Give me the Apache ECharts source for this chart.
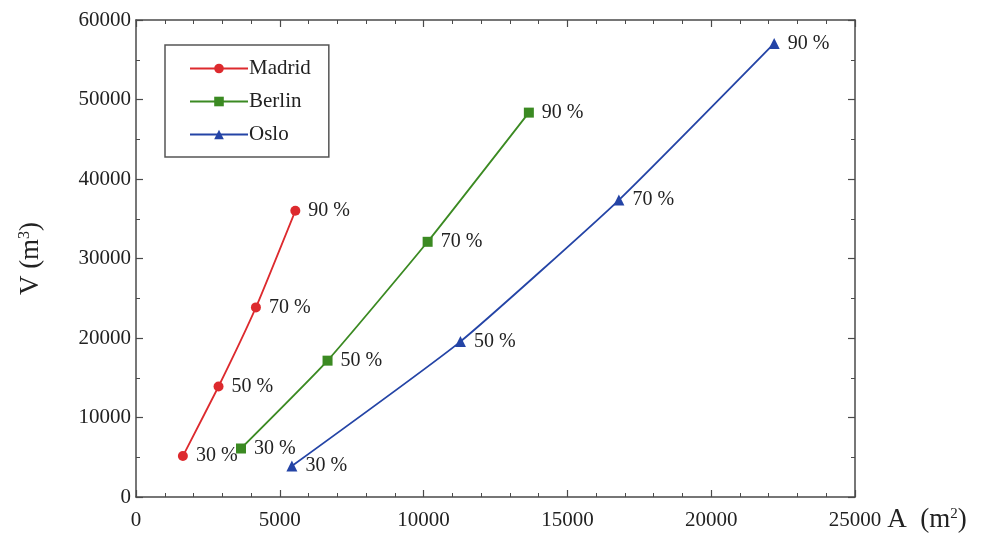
<!DOCTYPE html>
<html>
<head>
<meta charset="utf-8">
<script src="https://cdn.jsdelivr.net/npm/echarts@6/dist/echarts.min.js"></script>
<style>
  html, body { margin: 0; padding: 0; background: #ffffff; }
  #chart { width: 990px; height: 535px; }
</style>
</head>
<body>
<div id="chart"></div>
<script>
// Fill-ratio labels shared by every city curve
const percentLabels = ['30 %', '50 %', '70 %', '90 %'];

// Surface A (m²) and volume V (m³) per city
const madridA = [1630, 2870, 4170, 5540];
const madridV = [5150, 13900, 23850, 36000];
const berlinA = [3650, 6660, 10140, 13660];
const berlinV = [6100, 17150, 32100, 48350];
const osloA = [5420, 11280, 16790, 22190];
const osloV = [3900, 19550, 37350, 57050];

// Axis ticks
const xTicks = [0, 5000, 10000, 15000, 20000, 25000];
const yTicks = [0, 10000, 20000, 30000, 40000, 50000, 60000];

const FONT = 'Liberation Serif';
const FRAME = '#4a4a4a';
const INK = '#222222';

function pairs(xs, ys) {
  return xs.map((x, i) => [x, ys[i]]);
}

function citySeries(name, xs, ys, color, symbol, size) {
  return {
    name: name,
    type: 'line',
    xAxisIndex: 0,
    yAxisIndex: 0,
    data: pairs(xs, ys),
    smooth: 0.15,
    symbol: symbol,
    symbolSize: size,
    lineStyle: { color: color, width: 1.8 },
    itemStyle: { color: color },
    label: {
      show: true,
      position: 'right',
      distance: 8,
      fontFamily: FONT,
      fontSize: 20,
      color: INK,
      formatter: p => percentLabels[p.dataIndex]
    },
    emphasis: { disabled: true },
    animation: false
  };
}

const xStep = xTicks[1] - xTicks[0];
const yStep = yTicks[1] - yTicks[0];

const frameAxisCommon = {
  axisLine: { show: true, onZero: false, lineStyle: { color: FRAME, width: 1.5 } },
  axisTick: { show: true, inside: true, length: 7, lineStyle: { color: FRAME, width: 1.2 } },
  splitLine: { show: false }
};

const plainNumber = v => String(v);

const chart = echarts.init(document.getElementById('chart'), null, { renderer: 'canvas' });

chart.setOption({
  backgroundColor: '#ffffff',
  animation: false,
  grid: { left: 136, right: 135, top: 20, bottom: 38, containLabel: false },
  legend: {
    orient: 'vertical',
    left: 165,
    top: 45,
    padding: [13, 18, 12, 24],
    itemGap: 12,
    itemWidth: 58,
    itemHeight: 12,
    borderColor: '#555555',
    borderWidth: 1.5,
    backgroundColor: '#ffffff',
    textStyle: { fontFamily: FONT, fontSize: 21, color: INK, padding: [0, 0, 0, -4] },
    data: ['Madrid', 'Berlin', 'Oslo']
  },
  xAxis: [
    Object.assign({
      type: 'value',
      position: 'bottom',
      min: xTicks[0],
      max: xTicks[xTicks.length - 1],
      interval: xStep,
      minorTick: { show: true, splitNumber: 5, length: 4, lineStyle: { color: FRAME, width: 1 } },
      axisLabel: { fontFamily: FONT, fontSize: 21, color: INK, margin: 13, formatter: plainNumber },
      name: 'A  (m{s|2})',
      nameLocation: 'end',
      nameGap: 28,
      nameTextStyle: {
        fontFamily: FONT, fontSize: 27, color: INK,
        verticalAlign: 'middle', padding: [46, 0, 0, 0],
        rich: { s: { fontFamily: FONT, fontSize: 15, color: INK, verticalAlign: 'top', padding: [0, 0, 10, 0] } }
      }
    }, frameAxisCommon),
    Object.assign({
      type: 'value',
      position: 'top',
      min: xTicks[0],
      max: xTicks[xTicks.length - 1],
      interval: xStep,
      minorTick: { show: true, splitNumber: 5, length: 4, lineStyle: { color: FRAME, width: 1 } },
      axisLabel: { show: false }
    }, frameAxisCommon)
  ],
  yAxis: [
    Object.assign({
      type: 'value',
      position: 'left',
      min: yTicks[0],
      max: yTicks[yTicks.length - 1],
      interval: yStep,
      minorTick: { show: true, splitNumber: 2, length: 4, lineStyle: { color: FRAME, width: 1 } },
      axisLabel: { fontFamily: FONT, fontSize: 21, color: INK, margin: 5, formatter: plainNumber },
      name: 'V (m{s|3})',
      nameLocation: 'middle',
      nameRotate: 90,
      nameGap: 92,
      nameTextStyle: {
        fontFamily: FONT, fontSize: 27, color: INK,
        rich: { s: { fontFamily: FONT, fontSize: 16, color: INK, verticalAlign: 'top', padding: [0, 0, 10, 0] } }
      }
    }, frameAxisCommon),
    Object.assign({
      type: 'value',
      position: 'right',
      min: yTicks[0],
      max: yTicks[yTicks.length - 1],
      interval: yStep,
      minorTick: { show: true, splitNumber: 2, length: 4, lineStyle: { color: FRAME, width: 1 } },
      axisLabel: { show: false }
    }, frameAxisCommon)
  ],
  series: [
    citySeries('Madrid', madridA, madridV, '#dd2a2e', 'circle', 10),
    citySeries('Berlin', berlinA, berlinV, '#3b8a22', 'rect', 10),
    citySeries('Oslo', osloA, osloV, '#2444a6', 'triangle', 11)
  ]
});
</script>
</body>
</html>
